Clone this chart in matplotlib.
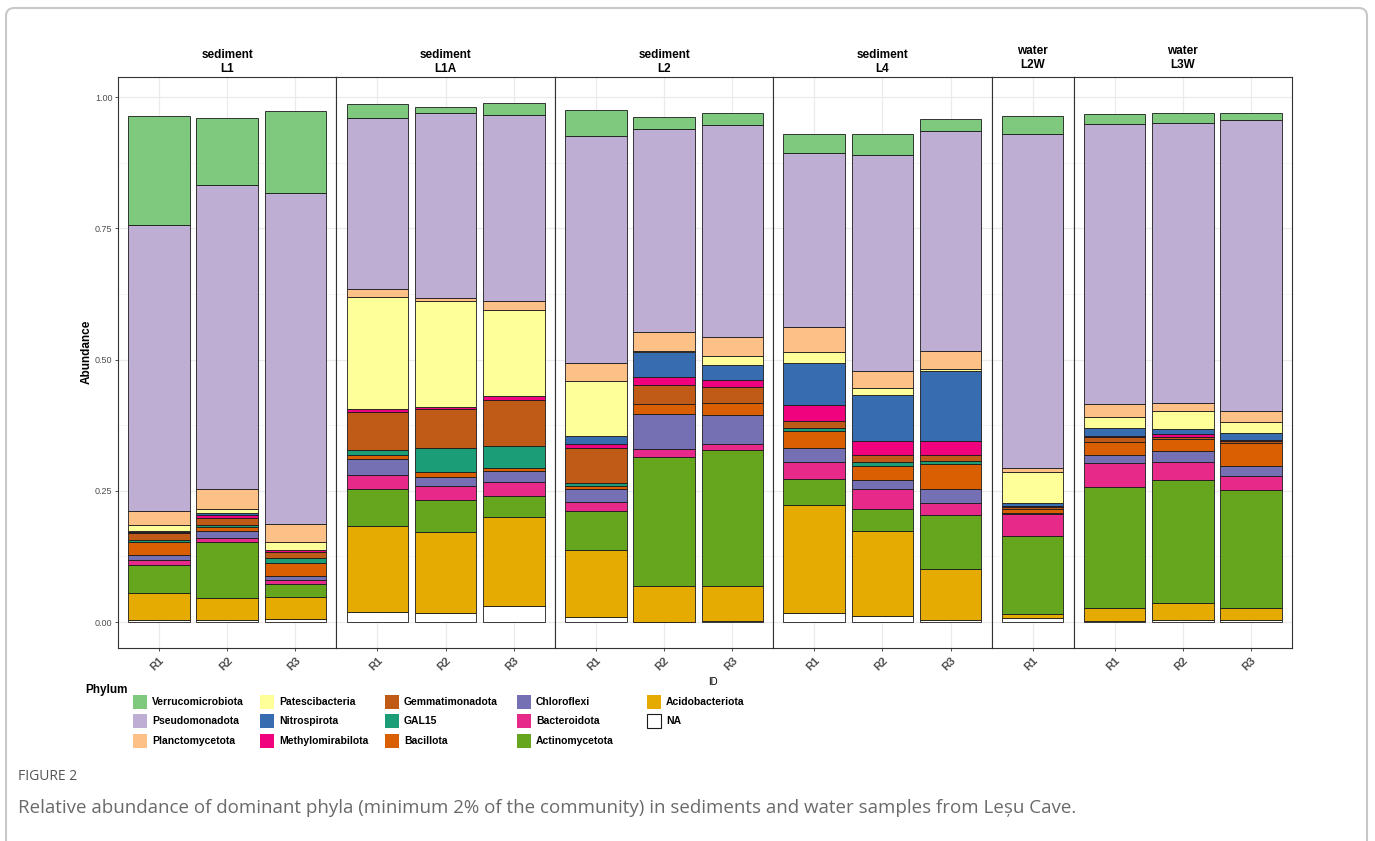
import numpy as np
import matplotlib.pyplot as plt
from matplotlib.patches import Rectangle, FancyBboxPatch
from matplotlib.transforms import ScaledTranslation

plt.rcParams['font.family'] = ['Liberation Sans', 'DejaVu Sans']

W, H = 1375, 841

# facets: habitat / site, with the replicates inside each
habitats = ['sediment', 'sediment', 'sediment', 'sediment', 'water', 'water']
sites = ['L1', 'L1A', 'L2', 'L4', 'L2W', 'L3W']
replicates = [['R1', 'R2', 'R3'], ['R1', 'R2', 'R3'], ['R1', 'R2', 'R3'],
              ['R1', 'R2', 'R3'], ['R1'], ['R1', 'R2', 'R3']]

# relative abundance per sample, order:
# L1 R1-R3, L1A R1-R3, L2 R1-R3, L4 R1-R3, L2W R1, L3W R1-R3
verrucomicrobiota = [0.208, 0.128, 0.156, 0.027, 0.012, 0.023, 0.049, 0.023, 0.022, 0.036, 0.040, 0.023, 0.035, 0.020, 0.019, 0.013]
pseudomonadota    = [0.546, 0.579, 0.631, 0.326, 0.352, 0.355, 0.432, 0.387, 0.403, 0.332, 0.411, 0.418, 0.637, 0.533, 0.532, 0.554]
planctomycetota   = [0.026, 0.038, 0.034, 0.014, 0.005, 0.016, 0.035, 0.035, 0.037, 0.048, 0.033, 0.035, 0.007, 0.025, 0.016, 0.020]
patescibacteria   = [0.011, 0.007, 0.014, 0.214, 0.203, 0.165, 0.104, 0.003, 0.017, 0.020, 0.013, 0.003, 0.059, 0.021, 0.035, 0.022]
nitrospirota      = [0.002, 0.005, 0.000, 0.000, 0.000, 0.000, 0.016, 0.047, 0.028, 0.081, 0.089, 0.135, 0.006, 0.014, 0.009, 0.013]
methylomirabilota = [0.003, 0.005, 0.005, 0.005, 0.003, 0.006, 0.007, 0.016, 0.014, 0.030, 0.026, 0.026, 0.002, 0.003, 0.005, 0.003]
gemmatimonadota   = [0.012, 0.013, 0.011, 0.073, 0.074, 0.089, 0.068, 0.036, 0.031, 0.013, 0.014, 0.012, 0.004, 0.009, 0.004, 0.003]
gal15             = [0.004, 0.004, 0.009, 0.010, 0.047, 0.041, 0.005, 0.000, 0.000, 0.006, 0.006, 0.004, 0.000, 0.000, 0.000, 0.000]
bacillota         = [0.026, 0.007, 0.025, 0.008, 0.009, 0.007, 0.005, 0.019, 0.022, 0.032, 0.027, 0.049, 0.008, 0.024, 0.024, 0.043]
chloroflexi       = [0.008, 0.014, 0.008, 0.029, 0.017, 0.020, 0.026, 0.067, 0.056, 0.027, 0.018, 0.027, 0.002, 0.016, 0.021, 0.020]
bacteroidota      = [0.010, 0.007, 0.007, 0.027, 0.026, 0.026, 0.017, 0.014, 0.012, 0.033, 0.038, 0.022, 0.041, 0.046, 0.033, 0.026]
actinomycetota    = [0.053, 0.108, 0.025, 0.071, 0.062, 0.041, 0.073, 0.247, 0.259, 0.049, 0.042, 0.102, 0.148, 0.231, 0.235, 0.225]
acidobacteriota   = [0.053, 0.042, 0.043, 0.164, 0.153, 0.170, 0.128, 0.067, 0.066, 0.205, 0.161, 0.099, 0.008, 0.024, 0.032, 0.023]
na_fraction       = [0.003, 0.003, 0.005, 0.019, 0.018, 0.030, 0.010, 0.001, 0.002, 0.018, 0.012, 0.003, 0.008, 0.002, 0.004, 0.004]

# legend order (top of stack first)
phyla = ['Verrucomicrobiota', 'Pseudomonadota', 'Planctomycetota', 'Patescibacteria',
         'Nitrospirota', 'Methylomirabilota', 'Gemmatimonadota', 'GAL15', 'Bacillota',
         'Chloroflexi', 'Bacteroidota', 'Actinomycetota', 'Acidobacteriota', 'NA']
abundance = [verrucomicrobiota, pseudomonadota, planctomycetota, patescibacteria,
             nitrospirota, methylomirabilota, gemmatimonadota, gal15, bacillota,
             chloroflexi, bacteroidota, actinomycetota, acidobacteriota, na_fraction]
colors = ['#7FC97F', '#BEAED4', '#FDC086', '#FFFF99', '#386CB0', '#F0027F', '#BF5B17',
          '#1B9E77', '#D95F02', '#7570B3', '#E7298A', '#66A61E', '#E6AB02', '#FFFFFF']

data = np.array(abundance)
totals = data.sum(axis=0)
ymax = totals.max()
ylim = (-0.05 * ymax, ymax * 1.05)

fig = plt.figure(figsize=(W / 100, H / 100), dpi=100)

# panel geometry in pixels (facet_grid with free x space, no spacing)
left_px, right_px, top_px, bottom_px = 118, 1292, 77, 648
units = [len(r) + 0.2 for r in replicates]   # (n - 1) + 2 * 0.6 expansion
unit_px = (right_px - left_px) / sum(units)

grey_txt = '#4D4D4D'
label_shift = ScaledTranslation(-9 / 100, 0, fig.dpi_scale_trans)
start = 0
x0 = left_px
for i, reps in enumerate(replicates):
    n = len(reps)
    w = units[i] * unit_px
    ax = fig.add_axes([x0 / W, 1 - bottom_px / H, w / W, (bottom_px - top_px) / H])
    xs = np.arange(1, n + 1)
    cols = slice(start, start + n)
    bottom = np.zeros(n)
    # stack from the bottom of the legend upwards
    for name, vals, c in zip(phyla[::-1], data[::-1], colors[::-1]):
        v = vals[cols]
        mask = v > 0
        ax.bar(xs[mask], v[mask], bottom=bottom[mask], width=0.9, color=c,
               edgecolor='#1A1A1A', linewidth=0.6, zorder=3)
        bottom += v
    ax.set_xlim(0.4, n + 0.6)
    ax.set_ylim(*ylim)
    ax.set_yticks([0, 0.25, 0.5, 0.75, 1.0])
    ax.set_yticks([0.125, 0.375, 0.625, 0.875], minor=True)
    ax.set_xticks(xs)
    ax.set_xticklabels(reps, rotation=45, ha='right', rotation_mode='anchor',
                       fontsize=8, fontweight='bold', color=grey_txt)
    for lbl in ax.get_xticklabels():
        lbl.set_transform(lbl.get_transform() + label_shift)
    ax.grid(which='major', color='#EBEBEB', linewidth=0.9, zorder=0)
    ax.grid(which='minor', axis='y', color='#F2F2F2', linewidth=0.5, zorder=0)
    ax.set_axisbelow(True)
    for s in ax.spines.values():
        s.set_color('#333333')
        s.set_linewidth(0.8)
    ax.tick_params(axis='x', length=2.5, width=0.6, color='#333333', pad=3)
    ax.tick_params(which='minor', length=0)
    if i == 0:
        ax.set_yticklabels(['0.00', '0.25', '0.50', '0.75', '1.00'])
        ax.tick_params(axis='y', length=2.5, width=0.6, color='#333333',
                       labelsize=6.5, labelcolor=grey_txt, pad=1.5)
    else:
        ax.tick_params(axis='y', left=False, labelleft=False)

    # strip label
    cx = (x0 + w / 2) / W
    sy = 62 if habitats[i] == 'sediment' else 58
    fig.text(cx, 1 - sy / H, f'{habitats[i]}\n{sites[i]}', ha='center', va='center',
             fontsize=8.5, fontweight='bold', linespacing=1.25)
    x0 += w
    start += n

fig.text(87 / W, 1 - 352 / H, 'Abundance', rotation=90, ha='center', va='center',
         fontsize=8.5, fontweight='bold')
fig.text(713 / W, 1 - 682 / H, 'ID', ha='center', va='center', fontsize=7)

# legend, filled column by column
fig.text(85 / W, 1 - 690 / H, 'Phylum', ha='left', va='center', fontsize=8.5, fontweight='bold')
col_x = [133, 260, 385, 517, 647]
row_y = [702, 721, 741]
for k, (name, c) in enumerate(zip(phyla, colors)):
    kx = col_x[k // 3]
    ky = row_y[k % 3]
    fig.patches.append(Rectangle((kx / W, 1 - (ky + 7) / H), 14 / W, 14 / H,
                                 transform=fig.transFigure, facecolor=c,
                                 edgecolor='#1A1A1A' if name == 'NA' else c,
                                 linewidth=0.8 if name == 'NA' else 0))
    fig.text((kx + 19) / W, 1 - ky / H, name, ha='left', va='center',
             fontsize=7.5, fontweight='bold')

# figure frame and caption
fig.patches.append(FancyBboxPatch((6 / W, -0.05), 1361 / W, 1.05 - 8 / H,
                                  boxstyle='round,pad=0,rounding_size=0.006',
                                  mutation_aspect=W / H, transform=fig.transFigure,
                                  fill=False, edgecolor='#C8C8C8', linewidth=1.5))
fig.text(18 / W, 1 - 776 / H, 'FIGURE 2', ha='left', va='center', fontsize=10,
         color='#555555', family=['Open Sans', 'DejaVu Sans'])
fig.text(18 / W, 1 - 808 / H,
         'Relative abundance of dominant phyla (minimum 2% of the community) in sediments '
         'and water samples from Leșu Cave.',
         ha='left', va='center', fontsize=13.5, color='#6A6A6A',
         family=['Open Sans', 'DejaVu Sans'])

fig.savefig('out.png', dpi=100)
